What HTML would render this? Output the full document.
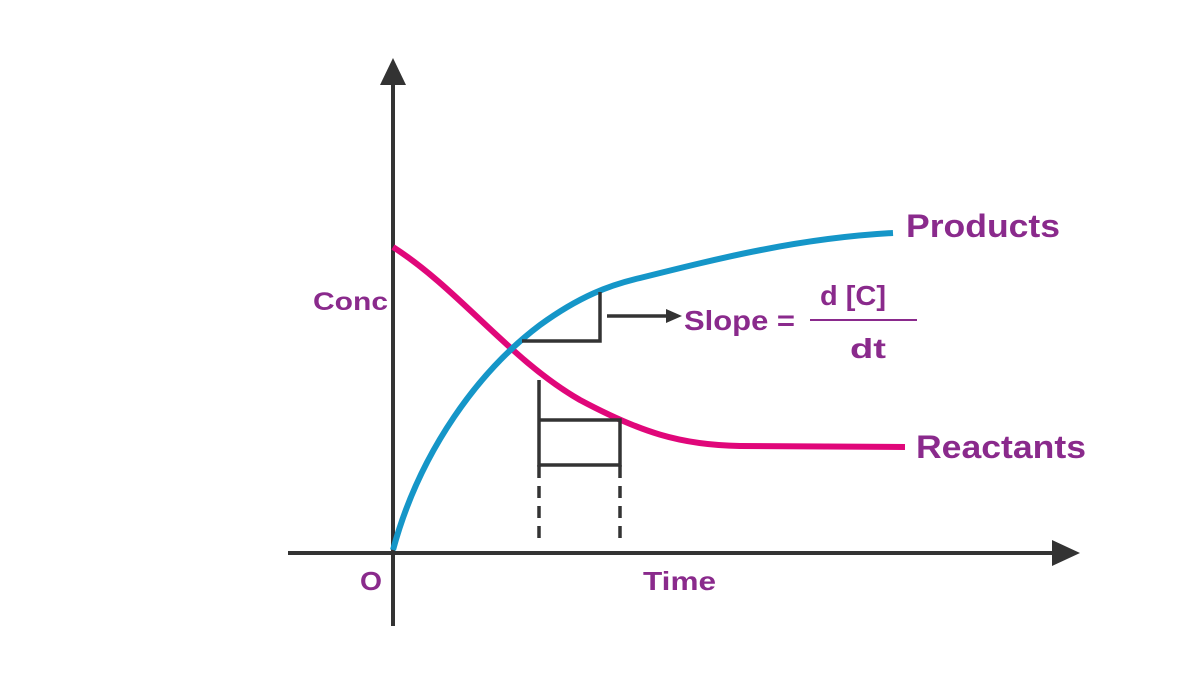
<!DOCTYPE html>
<html><head><meta charset="utf-8"><style>
html,body{margin:0;padding:0;background:#fff;}
svg{display:block;}
text{font-family:"Liberation Sans",sans-serif;font-weight:bold;fill:#8a2a8c;}
</style></head><body>
<svg width="1200" height="675" viewBox="0 0 1200 675" xmlns="http://www.w3.org/2000/svg">
<g stroke="#333" stroke-width="4" fill="none">
<line x1="393" y1="80" x2="393" y2="626"/>
<line x1="288" y1="553" x2="1058" y2="553"/>
</g>
<polygon points="393,58 380,85 406,85" fill="#333"/>
<polygon points="1080,553 1052,540 1052,566" fill="#333"/>
<path d="M393,247 C460,290 510,360 580,400 C640,432 680,445 740,446 L905,447" stroke="#e0077a" stroke-width="6" fill="none"/>
<path d="M393,550 C420,450 480,370 540,325 C580,296 610,285 640,278 C720,258 800,238 893,233" stroke="#1596c8" stroke-width="6" fill="none"/>
<g stroke="#333" stroke-width="3.5" fill="none">
<polyline points="600,292 600,341 522,341"/>
<line x1="607" y1="316" x2="668" y2="316"/>
<polyline points="539,380 539,465 620,465 620,420 539,420"/>
<line x1="539" y1="465" x2="539" y2="478"/>
<line x1="620" y1="465" x2="620" y2="478"/>
<line x1="539" y1="486" x2="539" y2="542" stroke-dasharray="12,8"/>
<line x1="620" y1="486" x2="620" y2="542" stroke-dasharray="12,8"/>
<line x1="810" y1="320" x2="917" y2="320" stroke="#8a2a8c" stroke-width="2"/>
</g>
<polygon points="682,316 666,309 666,323" fill="#333"/>
<text x="906" y="237" font-size="32" textLength="154" lengthAdjust="spacingAndGlyphs">Products</text>
<text x="916" y="458" font-size="32" textLength="170" lengthAdjust="spacingAndGlyphs">Reactants</text>
<text x="313" y="310" font-size="25" textLength="75" lengthAdjust="spacingAndGlyphs">Conc</text>
<text x="684" y="330" font-size="28" textLength="111" lengthAdjust="spacingAndGlyphs">Slope =</text>
<text x="820" y="305" font-size="28" textLength="66" lengthAdjust="spacingAndGlyphs">d [C]</text>
<text x="850" y="358" font-size="28" textLength="36" lengthAdjust="spacingAndGlyphs">dt</text>
<text x="360" y="590" font-size="26" textLength="22" lengthAdjust="spacingAndGlyphs">O</text>
<text x="643" y="590" font-size="26" textLength="73" lengthAdjust="spacingAndGlyphs">Time</text>
</svg>
</body></html>
